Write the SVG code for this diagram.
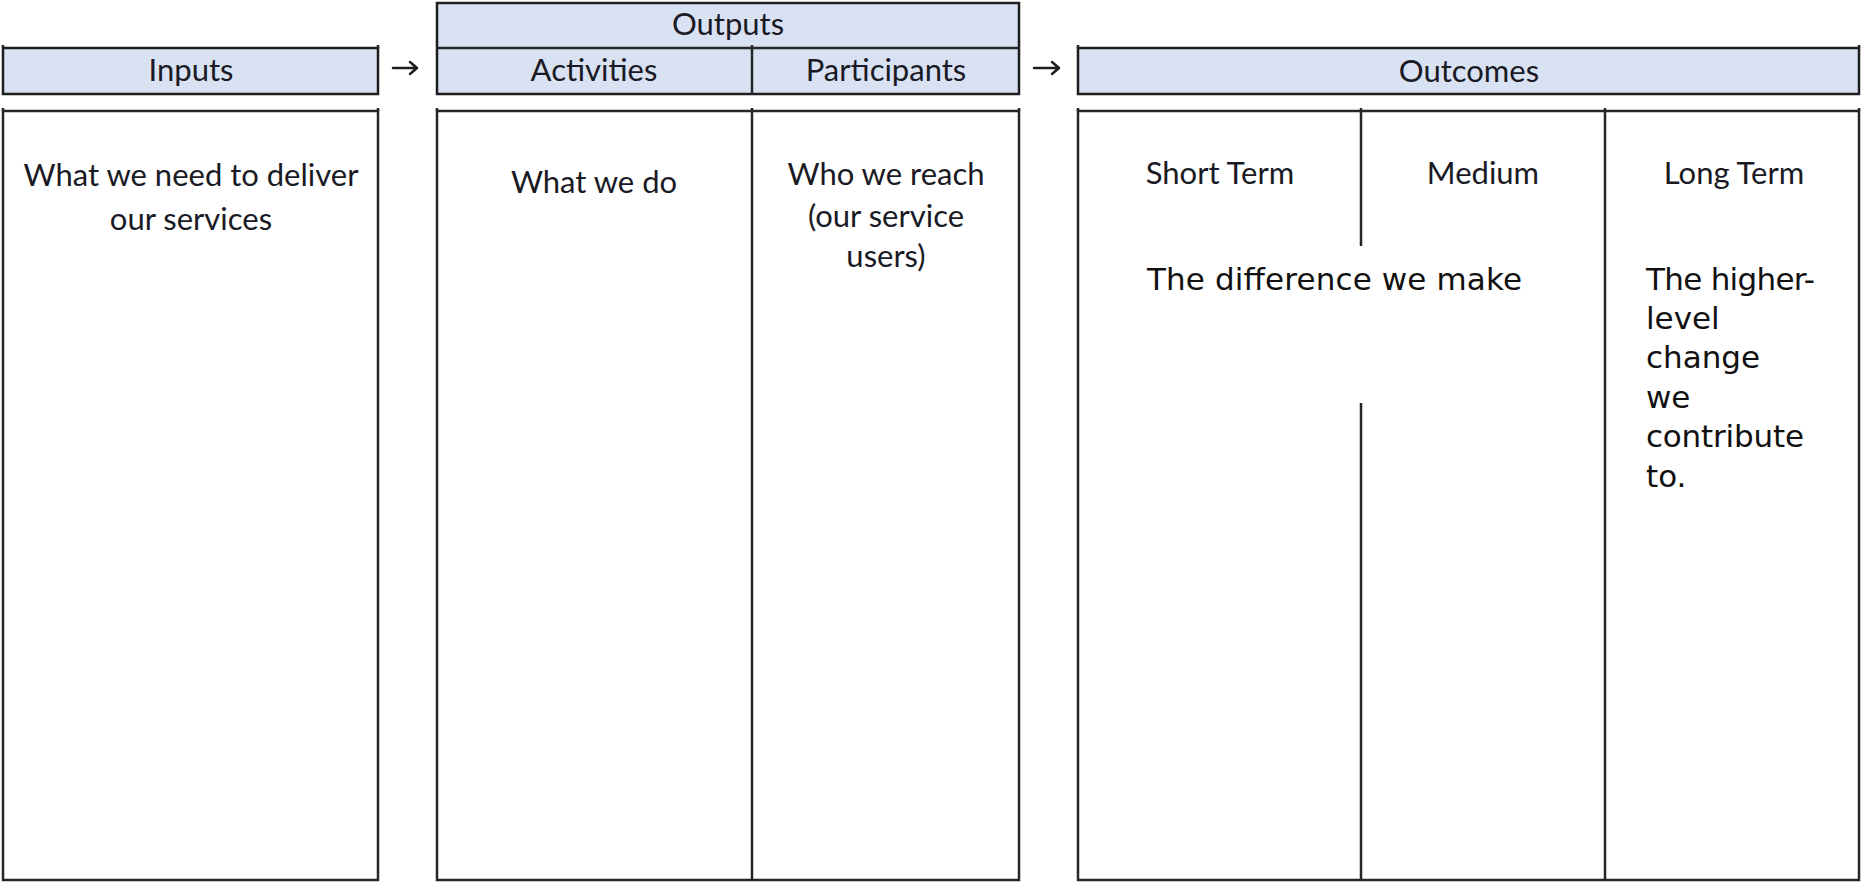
<svg xmlns="http://www.w3.org/2000/svg" width="1861" height="883" viewBox="0 0 1861 883">
<style>
.hdr{fill:#D9E2F3;stroke:#1e1e1e;stroke-width:2.5}
.body{fill:#ffffff;stroke:#262626;stroke-width:2.5}
.div{stroke:#262626;stroke-width:2.5;fill:none}
.cal{font-family:Lato,"Open Sans","Liberation Sans",sans-serif;font-size:31px;fill:#1a1a24;text-anchor:middle}
.cg{font-family:"DejaVu Sans","Liberation Sans",sans-serif;font-size:31px;fill:#111111}
.arr{stroke:#1e1e1e;stroke-width:2.5;fill:none;stroke-linecap:round;stroke-linejoin:round}
</style>
<rect width="1861" height="883" fill="#ffffff"/>

<g id="inputs">
  <rect class="hdr" x="3" y="48" width="375" height="46"/>
  <path class="div" d="M3,45V48M378,45V48"/>
  <text class="cal" x="191" y="81">Inputs</text>
  <rect class="body" x="3" y="111" width="375" height="769"/>
  <path class="div" d="M3,108V111M378,108V111"/>
  <text class="cal" x="191" y="186">What we need to deliver</text>
  <text class="cal" x="191" y="230">our services</text>
</g>

<g id="outputs">
  <rect class="hdr" x="437" y="3" width="582" height="91"/>
  <path class="div" d="M437,48H1019M752,45V94"/>
  <text class="cal" x="728" y="35">Outputs</text>
  <text class="cal" x="594" y="81">Activities</text>
  <text class="cal" x="886" y="81">Participants</text>
  <rect class="body" x="437" y="111" width="582" height="769"/>
  <path class="div" d="M437,108V111M1019,108V111M752,108V880"/>
  <text class="cal" x="594" y="193">What we do</text>
  <text class="cal" x="886" y="185">Who we reach</text>
  <text class="cal" x="886" y="227">(our service</text>
  <text class="cal" x="886" y="267">users)</text>
</g>

<g id="outcomes">
  <rect class="hdr" x="1078" y="48" width="781" height="46"/>
  <path class="div" d="M1078,45V48M1859,45V48"/>
  <text class="cal" x="1469" y="82">Outcomes</text>
  <rect class="body" x="1078" y="111" width="781" height="769"/>
  <path class="div" d="M1078,108V111M1859,108V111M1361,108V246M1361,403V880M1605,108V880"/>
  <text class="cal" x="1220" y="184">Short Term</text>
  <text class="cal" x="1483" y="184">Medium</text>
  <text class="cal" x="1734" y="184">Long Term</text>
  <text class="cg" x="1147" y="290" textLength="375" lengthAdjust="spacing">The difference we make</text>
  <text class="cg" x="1646" y="290" textLength="169" lengthAdjust="spacing">The higher-</text>
  <text class="cg" x="1646" y="329">level</text>
  <text class="cg" x="1646" y="368">change</text>
  <text class="cg" x="1646" y="408">we</text>
  <text class="cg" x="1646" y="447" textLength="158" lengthAdjust="spacing">contribute</text>
  <text class="cg" x="1646" y="487">to.</text>
</g>

<g id="connectors">
  <path class="arr" d="M393,68H417M410,62L417,68L410,74"/>
  <path class="arr" d="M1034,68H1059M1052,62L1059,68L1052,74"/>
</g>
</svg>
